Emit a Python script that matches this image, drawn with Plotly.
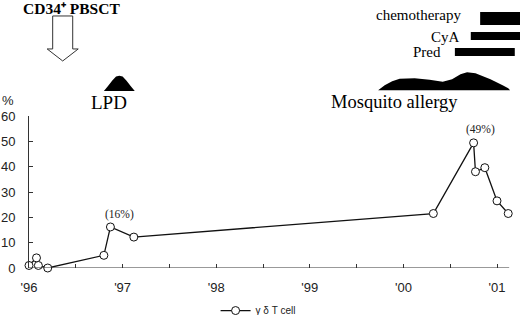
import plotly.graph_objects as go

# ---- data ----
years = [1996.0, 1996.08, 1996.10, 1996.20, 1996.80, 1996.87, 1997.12,
         2000.32, 2000.75, 2000.77, 2000.87, 2001.0, 2001.12]
gd_pct = [1.0, 4.0, 1.0, 0.0, 5.0, 16.2, 12.2, 21.5, 49.4, 38.0, 39.6, 26.5, 21.5]
peak_labels = [(1996.97, 21.0, "(16%)"), (2000.82, 54.5, "(49%)")]

tick_years = [1996, 1996.5, 1997, 1997.5, 1998, 1998.5, 1999, 1999.5, 2000, 2000.5, 2001]
tick_text = ["'96", "", "'97", "", "'98", "", "'99", "", "'00", "", "'01"]
y_ticks = [0, 10, 20, 30, 40, 50, 60]

# treatments: (label, start, end)
treat_names = ["chemotherapy", "CyA", "Pred"]
treat_start = [2000.82, 2000.72, 2000.55]
treat_end = [2001.30, 2001.30, 2001.19]
label_right = [2000.64, 2000.63, 2000.42]

# disease activity profiles (year, relative intensity)
lpd_x = [1996.80, 1996.84, 1996.89, 1996.93, 1996.965, 1997.00, 1997.04, 1997.09, 1997.13]
lpd_h = [0.0, 0.3, 0.7, 0.95, 1.0, 0.95, 0.7, 0.3, 0.0]
mos_x = [1999.73, 1999.80, 1999.88, 1999.96, 2000.12, 2000.28, 2000.42, 2000.52,
         2000.61, 2000.68, 2000.77, 2000.93, 2001.06, 2001.12, 2001.14]
mos_h = [0.0, 0.28, 0.5, 0.64, 0.67, 0.58, 0.47, 0.61, 0.89, 1.0, 0.94, 0.61, 0.28, 0.11, 0.0]
transplant_year = 1996.36

# ---- figure ----
fig = go.Figure()
fig.add_trace(go.Scatter(
    x=years, y=gd_pct, mode="lines+markers", name="γ δ T cell",
    line=dict(color="#111", width=1.3),
    marker=dict(symbol="circle", size=8, color="white", line=dict(color="#111", width=1)),
    cliponaxis=False))

shapes = []
# x axis line
shapes.append(dict(type="line", xref="x", yref="y", x0=1996, x1=2001.13, y0=0, y1=0,
                   line=dict(color="#333", width=1)))

# treatment bars
bar_y = [(1.599, 1.684), (1.50, 1.553), (1.395, 1.447)]
label_y = [1.664, 1.52, 1.42]
for s, e, (y0, y1) in zip(treat_start, treat_end, bar_y):
    shapes.append(dict(type="rect", xref="x", yref="paper", x0=s, x1=e, y0=y0, y1=y1,
                       fillcolor="black", line=dict(width=0)))

def bump(xs, hs, base, height):
    pts = [f"{x},{base + h * height}" for x, h in zip(xs, hs)]
    return "M " + " L ".join(pts) + " Z"

shapes.append(dict(type="path", xref="x", yref="paper",
                   path=bump(lpd_x, lpd_h, 1.165, 0.099), fillcolor="black", line=dict(width=0)))
shapes.append(dict(type="path", xref="x", yref="paper",
                   path=bump(mos_x, mos_h, 1.17, 0.118), fillcolor="black", line=dict(width=0)))

# hollow arrow for transplant
hs, hh = 0.107, 0.166
t = transplant_year
arrow = (f"M {t-hs},1.658 L {t+hs},1.658 L {t+hs},1.441 L {t+hh},1.441 "
         f"L {t},1.362 L {t-hh},1.441 L {t-hs},1.441 Z")
shapes.append(dict(type="path", xref="x", yref="paper", path=arrow,
                   fillcolor="white", line=dict(color="#333", width=1)))

serif = "Liberation Serif"
annotations = []
for name, xr, ly in zip(treat_names, label_right, label_y):
    annotations.append(dict(x=xr, y=ly, xref="x", yref="paper", text=name, showarrow=False,
                            xanchor="right", yanchor="middle",
                            font=dict(family=serif, size=15, color="black")))
annotations.append(dict(x=1996.855, y=1.09, xref="x", yref="paper", text="LPD", showarrow=False,
                        xanchor="center", yanchor="middle", font=dict(family=serif, size=19, color="black")))
annotations.append(dict(x=1999.90, y=1.09, xref="x", yref="paper", text="Mosquito allergy",
                        showarrow=False, xanchor="center", yanchor="middle",
                        font=dict(family=serif, size=18.5, color="black")))
annotations.append(dict(x=1996.45, y=1.66, xref="x", yref="paper", yshift=7,
                        text="<b>CD34⁺ PBSCT</b>", showarrow=False,
                        xanchor="center", yanchor="middle", font=dict(family=serif, size=15.5, color="black")))
for x, y, txt in peak_labels:
    annotations.append(dict(x=x, y=y, xref="x", yref="y", text=txt, showarrow=False,
                            xanchor="center", yanchor="middle",
                            font=dict(family=serif, size=11.5, color="#222")))
annotations.append(dict(x=-0.043, y=1.105, xref="paper", yref="paper", text="%", showarrow=False,
                        xanchor="center", yanchor="middle",
                        font=dict(family="Liberation Sans", size=13, color="#222")))

fig.update_layout(
    width=520, height=315,
    margin=dict(l=29, r=0, t=116, b=47, autoexpand=False),
    paper_bgcolor="white", plot_bgcolor="white",
    shapes=shapes, annotations=annotations,
    showlegend=True,
    legend=dict(x=0.38, y=-0.28, xanchor="left", yanchor="middle", orientation="h",
                font=dict(family="Liberation Sans", size=10, color="#222"),
                bgcolor="rgba(0,0,0,0)"),
    xaxis=dict(range=[1996, 1996 + 491 / 93.6], showline=False, showgrid=False, zeroline=False,
               automargin=False,
               tickmode="array", tickvals=tick_years, ticktext=tick_text,
               ticks="inside", ticklen=4, tickcolor="#333", ticklabelstandoff=10,
               tickfont=dict(family="Liberation Sans", size=13, color="#222")),
    yaxis=dict(range=[0, 60], showline=True, linecolor="#333", linewidth=1, automargin=False,
               showgrid=False, zeroline=False, tickmode="array", tickvals=y_ticks,
               ticks="inside", ticklen=4, tickcolor="#333", ticklabelstandoff=10,
               tickfont=dict(family="Liberation Sans", size=13, color="#222")),
)

fig.write_html("out.html", config={"displayModeBar": False},
               post_script="document.body.style.margin='0';document.body.style.padding='0';")
